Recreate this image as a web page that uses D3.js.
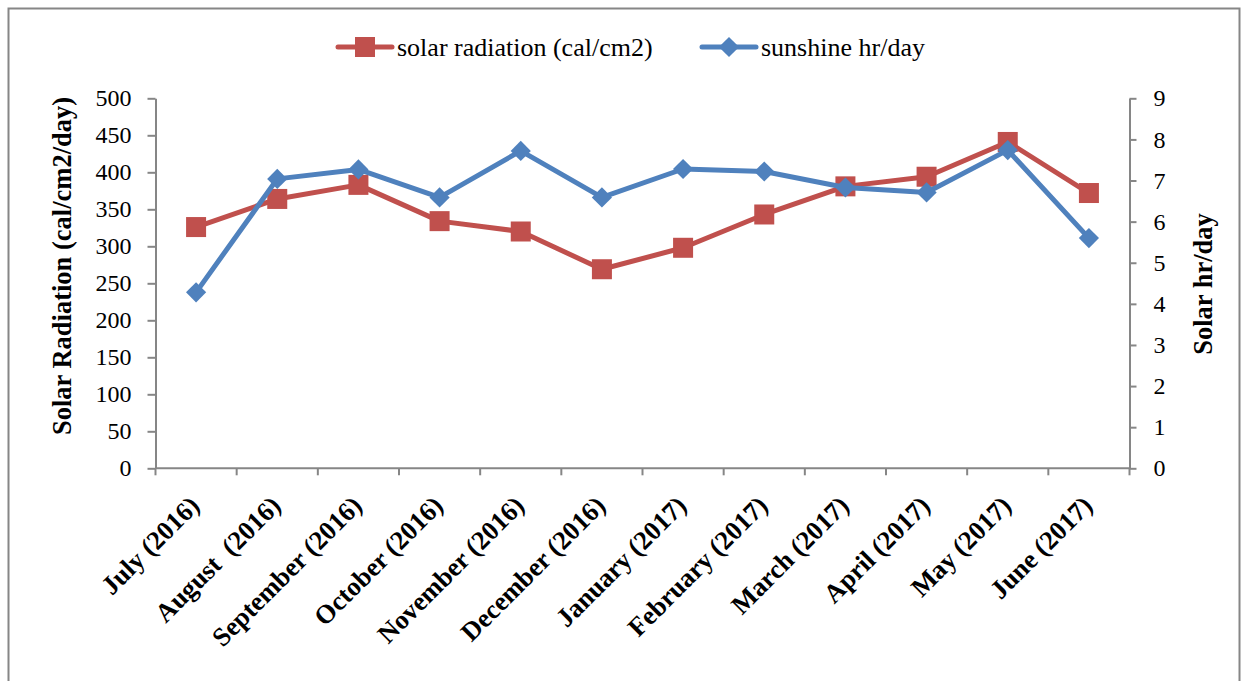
<!DOCTYPE html>
<html><head><meta charset="utf-8">
<script src="https://cdn.jsdelivr.net/npm/d3@7"></script>
<style>body{margin:0;background:#fff}svg{display:block}</style>
</head><body>
<svg id="c" width="1247" height="681"></svg>
<script>
const categories = ["July (2016)","August  (2016)","September (2016)","October (2016)","November (2016)","December (2016)","January (2017)","February (2017)","March (2017)","April (2017)","May (2017)","June (2017)"];
const solarRadiation = [326,364,383,334,320,269,298,343,381,394,441,372];
const sunshineHours = [4.28,7.04,7.27,6.59,7.72,6.59,7.28,7.22,6.83,6.71,7.74,5.60];
const leftTicks = [0,50,100,150,200,250,300,350,400,450,500];
const rightTicks = [0,1,2,3,4,5,6,7,8,9];
const seriesNames = ["solar radiation (cal/cm2)","sunshine hr/day"];

const svg = d3.select("#c");
const L=155.5, R=1129.5, T=98.3, B=468.3;
const RED="#C0504D", BLUE="#4F81BD", AX="#868686";
const font="'Liberation Serif','Times New Roman',serif";

svg.append("rect").attr("x",8.5).attr("y",8.5).attr("width",1231).attr("height",690)
  .attr("fill","none").attr("stroke",AX).attr("stroke-width",2);

const x = d3.scaleBand().domain(categories).range([L,R]);
const yL = d3.scaleLinear().domain([0,500]).range([B,T]);
const yR = d3.scaleLinear().domain([0,9]).range([B,T]);

function styleAxis(g){
  g.selectAll("path,line").attr("stroke",AX).attr("stroke-width",2);
  g.selectAll("text").attr("font-family",font).attr("font-size","24px").attr("fill","#000");
}
const gl = svg.append("g").attr("transform",`translate(${L},0)`)
  .call(d3.axisLeft(yL).tickValues(leftTicks).tickSize(8).tickSizeOuter(0).tickPadding(16));
styleAxis(gl);
const gr = svg.append("g").attr("transform",`translate(${R},0)`)
  .call(d3.axisRight(yR).tickValues(rightTicks).tickSize(7).tickSizeOuter(0).tickPadding(17));
styleAxis(gr);

// x axis with boundary ticks
const gx = svg.append("g");
gx.append("line").attr("x1",L).attr("x2",R).attr("y1",B).attr("y2",B).attr("stroke",AX).attr("stroke-width",2);
const bounds = categories.map(c=>x(c)).concat([R]);
gx.selectAll("line.t").data(bounds).join("line").attr("class","t")
  .attr("x1",d=>d).attr("x2",d=>d).attr("y1",B).attr("y2",B+7).attr("stroke",AX).attr("stroke-width",2);
gx.selectAll("text").data(categories).join("text")
  .attr("transform",d=>`translate(${x(d)+x.bandwidth()/2+5},${B+39}) rotate(-45)`)
  .attr("text-anchor","end")
  .attr("font-family",font).attr("font-size","26.5px").attr("font-weight","bold")
  .style("white-space","pre")
  .text(d=>d);

// axis titles
svg.append("text").attr("transform",`translate(71,266) rotate(-90)`).attr("text-anchor","middle")
  .attr("font-family",font).attr("font-size","26.5px").attr("font-weight","bold").text("Solar Radiation (cal/cm2/day)");
svg.append("text").attr("transform",`translate(1212,284) rotate(-90)`).attr("text-anchor","middle")
  .attr("font-family",font).attr("font-size","26.5px").attr("font-weight","bold").text("Solar hr/day");

const cx = d=>x(d)+x.bandwidth()/2;
const lineL = d3.line().x((d,i)=>cx(categories[i])).y(d=>yL(d));
const lineR = d3.line().x((d,i)=>cx(categories[i])).y(d=>yR(d));

svg.append("path").attr("d",lineL(solarRadiation)).attr("fill","none").attr("stroke",RED).attr("stroke-width",5).attr("stroke-linejoin","round");
svg.selectAll("rect.m").data(solarRadiation).join("rect").attr("class","m")
  .attr("x",(d,i)=>cx(categories[i])-10).attr("y",d=>yL(d)-10).attr("width",20).attr("height",20).attr("fill",RED);

svg.append("path").attr("d",lineR(sunshineHours)).attr("fill","none").attr("stroke",BLUE).attr("stroke-width",5).attr("stroke-linejoin","round");
const dia = d3.symbol().type(d3.symbolDiamond2).size(260);
svg.selectAll("path.d").data(sunshineHours).join("path").attr("class","d")
  .attr("d",dia).attr("transform",(d,i)=>`translate(${cx(categories[i])},${yR(d)})`).attr("fill",BLUE);

// legend
const lg = svg.append("g");
const items=[{x:338,c:RED,t:"s"},{x:702,c:BLUE,t:"d"}];
items.forEach((it,i)=>{
  lg.append("line").attr("x1",it.x).attr("x2",it.x+54).attr("y1",47).attr("y2",47).attr("stroke",it.c).attr("stroke-width",5).attr("stroke-linecap","round");
  if(it.t==="s") lg.append("rect").attr("x",it.x+27-10).attr("y",37).attr("width",20).attr("height",20).attr("fill",it.c);
  else lg.append("path").attr("d",dia).attr("transform",`translate(${it.x+27},47)`).attr("fill",it.c);
  lg.append("text").attr("x",it.x+59).attr("y",56).attr("font-family",font).attr("font-size","26px").text(seriesNames[i]);
});
</script>
</body></html>
